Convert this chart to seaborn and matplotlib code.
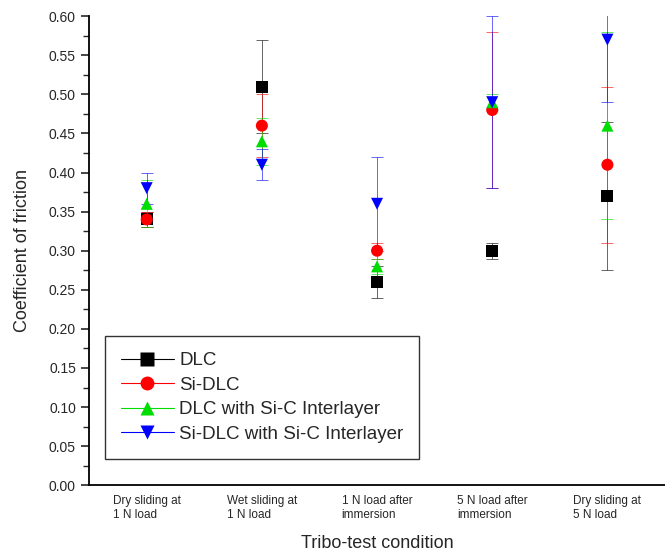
import numpy as np
import pandas as pd
import matplotlib
matplotlib.use("Agg")
import matplotlib.pyplot as plt
from matplotlib.lines import Line2D
from matplotlib.ticker import MultipleLocator, FormatStrFormatter
import seaborn as sns

categories = ["Dry sliding at\n1 N load", "Wet sliding at\n1 N load",
              "1 N load after\nimmersion", "5 N load after\nimmersion",
              "Dry sliding at\n5 N load"]
series = ["DLC", "Si-DLC", "DLC with Si-C Interlayer", "Si-DLC with Si-C Interlayer"]

dlc_mean = [0.34, 0.51, 0.26, 0.30, 0.37]
dlc_err = [0.01, 0.06, 0.02, 0.01, 0.095]
sidlc_mean = [0.34, 0.46, 0.30, 0.48, 0.41]
sidlc_err = [0.01, 0.04, 0.01, 0.10, 0.10]
dlcsic_mean = [0.36, 0.44, 0.28, 0.49, 0.46]
dlcsic_err = [0.03, 0.03, 0.01, 0.01, 0.12]
sidlcsic_mean = [0.38, 0.41, 0.36, 0.49, 0.57]
sidlcsic_err = [0.02, 0.02, 0.06, 0.11, 0.08]

colors = ["#000000", "#ff0000", "#00dd00", "#0000ff"]
markers = ["s", "o", "^", "v"]

means = [dlc_mean, sidlc_mean, dlcsic_mean, sidlcsic_mean]
errs = [dlc_err, sidlc_err, dlcsic_err, sidlcsic_err]

rows = []
for s, m, e in zip(series, means, errs):
    for i, c in enumerate(categories):
        rows.append({"series": s, "cond": c, "pos": i + 1, "mean": m[i], "err": e[i]})
df = pd.DataFrame(rows)

sns.set_theme(style="ticks")
plt.rcParams["font.family"] = ["Liberation Sans", "DejaVu Sans"]

fig = plt.figure(figsize=(6.65, 5.59), dpi=100)
ax = fig.add_axes([0.134, 0.132, 0.866, 0.839])

for s, col in zip(series, colors):
    d = df[df.series == s]
    ax.errorbar(d["pos"], d["mean"], yerr=d["err"], fmt="none", ecolor=col,
                elinewidth=0.7, capsize=4, capthick=0.7, alpha=0.6, zorder=2)

sns.scatterplot(data=df, x="pos", y="mean", hue="series", style="series",
                palette=dict(zip(series, colors)), markers=dict(zip(series, markers)),
                s=75, edgecolor="none", linewidth=0, ax=ax, legend=False, zorder=3)

ax.set_xlim(0.5, 5.5)
ax.set_ylim(0, 0.60)
ax.yaxis.set_major_locator(MultipleLocator(0.05))
ax.yaxis.set_minor_locator(MultipleLocator(0.025))
ax.yaxis.set_major_formatter(FormatStrFormatter("%.2f"))
ax.set_xticks(range(1, 6))
ax.set_xticklabels(categories, fontsize=8.5, multialignment="left")
ax.tick_params(axis="x", length=0, pad=7)
ax.tick_params(axis="y", which="major", length=6, width=1.2, labelsize=10, direction="out")
ax.tick_params(axis="y", which="minor", length=4, width=1.0, direction="out")
for sp in ["top", "right"]:
    ax.spines[sp].set_visible(False)
for sp in ["left", "bottom"]:
    ax.spines[sp].set_linewidth(1.3)
    ax.spines[sp].set_color("black")

ax.set_xlabel("Tribo-test condition", fontsize=13, labelpad=10)
ax.set_ylabel("Coefficient of friction", fontsize=13, labelpad=13)

handles = [Line2D([0], [0], color=c, marker=m, markersize=10, lw=0.8, alpha=1,
                  markeredgecolor="none") for c, m in zip(colors, markers)]
leg = ax.legend(handles, series, loc="lower left", bbox_to_anchor=(0.028, 0.056),
                fontsize=13.5, frameon=True, fancybox=False, handlelength=2.8,
                labelspacing=0.4, borderpad=0.85, handletextpad=0.3, borderaxespad=0)
leg.get_frame().set_edgecolor("black")
leg.get_frame().set_linewidth(1.0)

fig.savefig("out.png", dpi=100)
